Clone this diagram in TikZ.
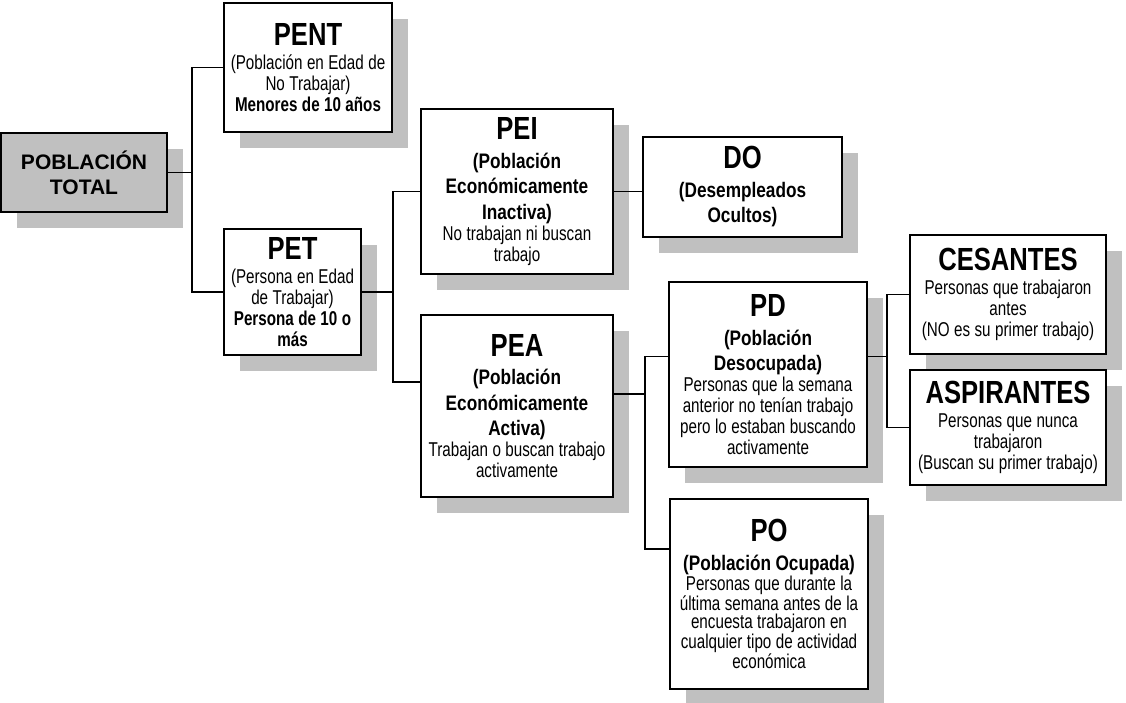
\documentclass[tikz,border=0pt]{standalone}
\usepackage{fontspec}
\setmainfont{Liberation Sans}
\newfontfamily\estrecha[FakeStretch=0.8]{Liberation Sans}
\newfontfamily\mediaestrecha[FakeStretch=0.82]{Liberation Sans}
\newfontfamily\letracuerpo[FakeStretch=0.76]{Liberation Sans}
\usetikzlibrary{shadows,calc}
\definecolor{sombra}{HTML}{C0C0C0}
%textos de las cajas
\newcommand{\titulo}[1]{{\estrecha\bfseries\fontsize{24}{27}\selectfont #1\par}\vspace{2.5pt}}
\newcommand{\subtitulo}[1]{{\mediaestrecha\bfseries\fontsize{15.75}{19}\selectfont #1\par}}
\newcommand{\cuerpo}[2][15.75]{{\letracuerpo\fontsize{15}{#1}\selectfont #2\par}}
\newcommand{\cuerpob}[1]{{\letracuerpo\bfseries\fontsize{15}{15.75}\selectfont #1\par}}
\newcommand{\subir}{\vspace*{15pt}}
\tikzset{
  x=0.75pt, y=-0.75pt,
  caja/.style={draw, line width=1.5pt, fill=white, align=center, inner sep=0pt, outer sep=0pt,
    drop shadow={shadow xshift=12pt, shadow yshift=-12pt, fill=sombra, opacity=1}},
  conector/.style={line width=1.4pt},
}
\begin{document}
\begin{tikzpicture}
    	\useasboundingbox (0,0) rectangle (1126,702);
    	%%%% CAJAS
    	\node[caja, fill=sombra, text width=124.5pt, minimum height=59.25pt] at (84,172.5) (total)
    		{{\bfseries\fontsize{15.75}{18.75}\selectfont POBLACIÓN\\TOTAL\par}};
    	\node[caja, text width=126pt, minimum height=96.75pt] at (308,67.5) (pent)
    		{\titulo{PENT}\cuerpo{(Población en Edad de\\No Trabajar)}\cuerpob{Menores de 10 años}\subir};
    	\node[caja, text width=102.75pt, minimum height=94.5pt] at (292.5,292) (pet)
    		{\titulo{PET}\cuerpo{(Persona en Edad\\de Trabajar)}\cuerpob{Persona de 10 o\\más}};
    	%%% inactiva / activa
    	\node[caja, text width=144pt, minimum height=123.75pt] at (517,191.5) (pei)
    		{\titulo{PEI}\subtitulo{(Población\\Económicamente\\Inactiva)}\cuerpo{No trabajan ni buscan\\trabajo}};
    	\node[caja, text width=144pt, minimum height=136.5pt] at (517,406) (pea)
    		{\titulo{PEA}\subtitulo{(Población\\Económicamente\\Activa)}\cuerpo{Trabajan o buscan trabajo\\activamente}\subir};
    	\node[caja, text width=149.25pt, minimum height=75pt] at (742.5,187) (do)
    		{\titulo{DO}\subtitulo{(Desempleados\\Ocultos)}};
    	%%% desocupada / ocupada
    	\node[caja, text width=148.5pt, minimum height=138.75pt] at (768,374.5) (pd)
    		{\titulo{PD}\subtitulo{(Población\\Desocupada)}\cuerpo{Personas que la semana\\anterior no tenían trabajo\\pero lo estaban buscando\\activamente}};
    	\node[caja, text width=148.5pt, minimum height=142.5pt] at (769,594) (po)
    		{\titulo{PO}\subtitulo{(Población Ocupada)}\cuerpo[13.5]{Personas que durante la\\última semana antes de la\\encuesta trabajaron en\\cualquier tipo de actividad\\económica}\subir};
    	\node[caja, text width=147pt, minimum height=89.25pt] at (1008,294.5) (ces)
    		{\titulo{CESANTES}\cuerpo{Personas que trabajaron\\antes\\(NO es su primer trabajo)}};
    	\node[caja, text width=147pt, minimum height=86.25pt] at (1008,427.5) (asp)
    		{\titulo{ASPIRANTES}\cuerpo{Personas que nunca\\trabajaron\\(Buscan su primer trabajo)}};
    	%%%% CONECTORES
    	\draw[conector] (total.east) -- ++(25,0) coordinate (j1);
    	\draw[conector] (j1) |- (pent.west);
    	\draw[conector] (j1) |- (pet.west);
    	\draw[conector] (pet.east) -- ++(32,0) coordinate (j2);
    	\draw[conector] (j2) |- (pei.west);
    	\draw[conector] (j2) |- ($(pea.west)+(0,-24)$);
    	\draw[conector] (pei.east) -- (pei.east -| do.west);
    	\draw[conector] ($(pea.east)+(0,-12)$) -- ++(32,0) coordinate (j3);
    	\draw[conector] (j3) |- ($(pd.west)+(0,-18)$);
    	\draw[conector] (j3) |- ($(po.west)+(0,-45)$);
    	\draw[conector] ($(pd.east)+(0,-18)$) -- ++(20,0) coordinate (j4);
    	\draw[conector] (j4) |- (ces.west);
    	\draw[conector] (j4) |- (asp.west);
\end{tikzpicture}
\end{document}
